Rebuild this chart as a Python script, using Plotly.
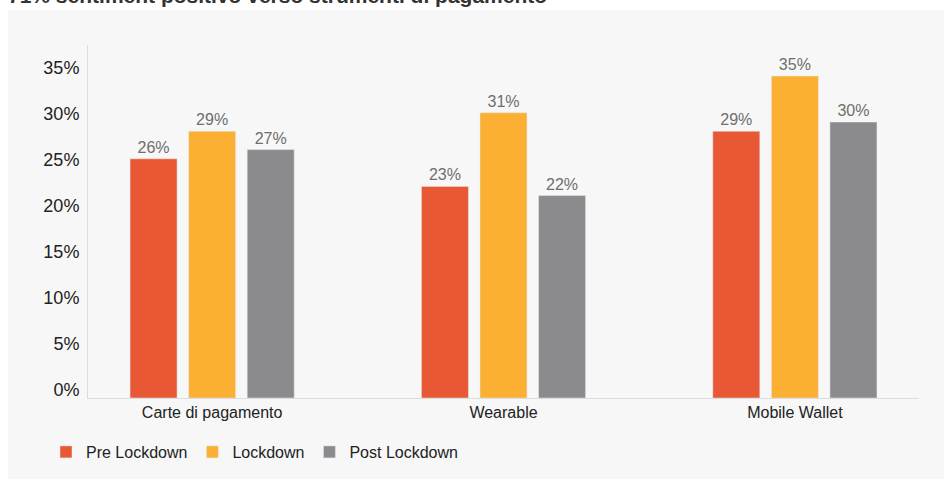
import plotly.graph_objects as go

title_text = "71% sentiment positivo verso strumenti di pagamento"
categories = ["Carte di pagamento", "Wearable", "Mobile Wallet"]
series_names = ["Pre Lockdown", "Lockdown", "Post Lockdown"]
pre_lockdown = [26, 23, 29]
lockdown = [29, 31, 35]
post_lockdown = [27, 22, 30]
tick_values = [0, 5, 10, 15, 20, 25, 30, 35]
tick_labels = ["0%", "5%", "10%", "15%", "20%", "25%", "30%", "35%"]

colors = ["#E95834", "#FBB034", "#8B8B8D"]
series = [pre_lockdown, lockdown, post_lockdown]

W, H = 944, 479
L, R, T, B = 88, 25, 45, 81
pw, ph = W - L - R, H - T - B

fig = go.Figure()
for name, vals, col in zip(series_names, series, colors):
    fig.add_trace(go.Bar(
        x=categories, y=vals, name=name, marker_color=col,
        text=[f"{v}%" for v in vals], textposition="outside",
        textfont=dict(size=16, color="#6e6e6e"), cliponaxis=False,
    ))

# background panel
fig.add_shape(type="rect", xref="paper", yref="paper",
              x0=(8 - L) / pw, x1=(W - L) / pw,
              y0=-(H - T - ph) / ph, y1=(ph + T - 10) / ph,
              fillcolor="#f7f7f7", line_width=0, layer="below")

fig.add_annotation(text=f"<b>{title_text}</b>", xref="paper", yref="paper",
                   x=(6 - L) / pw, y=(ph + T - 9) / ph, xanchor="left", yanchor="bottom",
                   showarrow=False, font=dict(size=21, color="#333333"))

fig.update_layout(
    width=W, height=H,
    margin=dict(l=L, r=R, t=T, b=B),
    paper_bgcolor="white", plot_bgcolor="rgba(0,0,0,0)",
    font=dict(family="Liberation Sans, Arial, sans-serif", color="#222222"),
    barmode="group", bargap=0.397, bargroupgap=0.197,
    showlegend=True,
    legend=dict(orientation="h", xref="container", yref="container",
                x=46 / W, y=(H - 452) / H, xanchor="left", yanchor="middle",
                font=dict(size=16, color="#222222"), bgcolor="rgba(0,0,0,0)",
                traceorder="normal"),
    xaxis=dict(type="category", range=[-0.426, 2.426], showline=True, linecolor="#dcdcdc",
               linewidth=1, ticks="", tickfont=dict(size=16, color="#222222"), showgrid=False),
    yaxis=dict(range=[0, (398 - 45) / 9.2], showline=True, linecolor="#dcdcdc", linewidth=1,
               showgrid=False, zeroline=False, tickvals=tick_values, ticktext=tick_labels,
               tickfont=dict(size=18, color="#222222"), ticklabelshift=-8, ticklabelstandoff=4),
)

fig.write_html("out.html", config={"displayModeBar": False},
               post_script="document.body.style.margin='0';")
